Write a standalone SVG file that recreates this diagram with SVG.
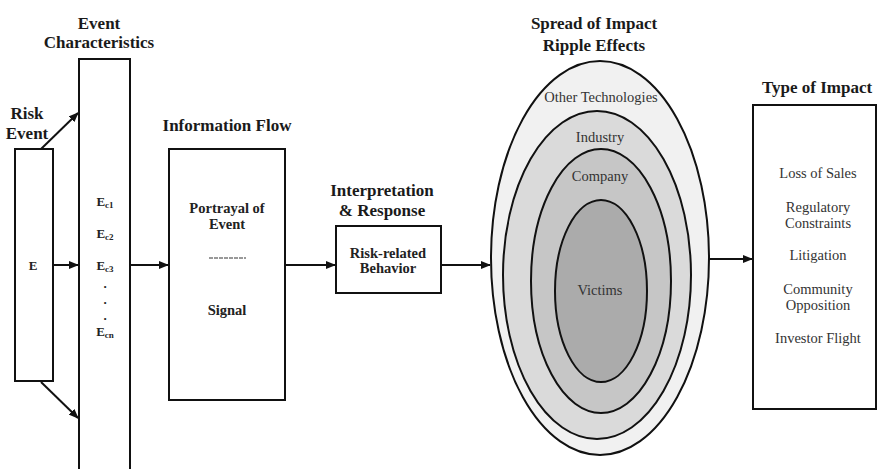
<svg xmlns="http://www.w3.org/2000/svg" width="878" height="469" viewBox="0 0 878 469">
<defs>
<marker id="ah" markerWidth="10" markerHeight="8" refX="9" refY="4" orient="auto" markerUnits="userSpaceOnUse">
<path d="M0,0 L10,4 L0,8 Z" fill="#111"/>
</marker>
<style>
.box{fill:#fff;stroke:#111;stroke-width:2}
.ell{stroke:#111;stroke-width:2}
text{font-family:'Liberation Serif','Times New Roman','DejaVu Serif',serif}
.title{font-weight:bold;font-size:17px;fill:#1a1a1a;text-anchor:middle}
.bt{font-weight:bold;font-size:14.5px;fill:#222;text-anchor:middle}
.et{font-weight:bold;font-size:13px;fill:#222;text-anchor:middle}
.rt{font-size:14.5px;fill:#333;text-anchor:middle}
.con{stroke:#111;stroke-width:2;fill:none}
</style>
</defs>
<rect width="878" height="469" fill="#fff"/>

<g id="connectors">
<line class="con" x1="41" y1="149" x2="78" y2="113" marker-end="url(#ah)"/>
<line class="con" x1="41" y1="382" x2="78" y2="418" marker-end="url(#ah)"/>
<line class="con" x1="53" y1="265" x2="78" y2="265" marker-end="url(#ah)"/>
<line class="con" x1="130" y1="265" x2="168" y2="265" marker-end="url(#ah)"/>
<line class="con" x1="285" y1="265" x2="335" y2="265" marker-end="url(#ah)"/>
<line class="con" x1="441" y1="265" x2="490" y2="265" marker-end="url(#ah)"/>
<line class="con" x1="709" y1="259" x2="752" y2="259" marker-end="url(#ah)"/>
</g>

<g id="risk-event">
<text class="title" x="27" y="119">Risk</text>
<text class="title" x="27" y="139">Event</text>
<rect class="box" x="15" y="149" width="38" height="232"/>
<text class="et" x="33" y="270">E</text>
</g>

<g id="event-characteristics">
<text class="title" x="99" y="29">Event</text>
<text class="title" x="99" y="48">Characteristics</text>
<rect class="box" x="79" y="59" width="51" height="420"/>
<text class="et" x="105" y="206">E<tspan font-size="9" dy="2">c1</tspan></text>
<text class="et" x="105" y="238">E<tspan font-size="9" dy="2">c2</tspan></text>
<text class="et" x="105" y="270">E<tspan font-size="9" dy="2">c3</tspan></text>
<text class="et" x="105" y="288">.</text>
<text class="et" x="105" y="304">.</text>
<text class="et" x="105" y="320">.</text>
<text class="et" x="105" y="336">E<tspan font-size="9" dy="2">cn</tspan></text>
</g>

<g id="information-flow">
<text class="title" x="227" y="131">Information Flow</text>
<rect class="box" x="169" y="149" width="116" height="251"/>
<text class="bt" x="227" y="213">Portrayal of</text>
<text class="bt" x="227" y="229">Event</text>
<line x1="209" y1="258" x2="246" y2="258" stroke="#333" stroke-width="1" stroke-dasharray="4 1"/>
<text class="bt" x="227" y="315">Signal</text>
</g>

<g id="interpretation">
<text class="title" x="382" y="196">Interpretation</text>
<text class="title" x="382" y="216">&amp; Response</text>
<rect class="box" x="336" y="226" width="105" height="67"/>
<text class="bt" x="388" y="258">Risk-related</text>
<text class="bt" x="388" y="273">Behavior</text>
</g>

<g id="ripple-effects">
<text class="title" x="594" y="29">Spread of Impact</text>
<text class="title" x="594" y="51">Ripple Effects</text>
<ellipse class="ell" cx="600" cy="258" rx="109" ry="197" fill="#f1f1f1"/>
<ellipse class="ell" cx="597" cy="275" rx="94" ry="164" fill="#dadada"/>
<ellipse class="ell" cx="601" cy="281" rx="70" ry="132" fill="#c6c6c6"/>
<ellipse class="ell" cx="601" cy="291" rx="46" ry="91" fill="#ababab"/>
<text class="rt" x="601" y="102">Other Technologies</text>
<text class="rt" x="600" y="142">Industry</text>
<text class="rt" x="600" y="181">Company</text>
<text class="rt" x="600" y="295">Victims</text>
</g>

<g id="type-of-impact">
<text class="title" x="817" y="93">Type of Impact</text>
<rect class="box" x="753" y="105" width="123" height="304"/>
<text class="rt" x="818" y="178">Loss of Sales</text>
<text class="rt" x="818" y="212">Regulatory</text>
<text class="rt" x="818" y="228">Constraints</text>
<text class="rt" x="818" y="260">Litigation</text>
<text class="rt" x="818" y="294">Community</text>
<text class="rt" x="818" y="310">Opposition</text>
<text class="rt" x="818" y="343">Investor Flight</text>
</g>
</svg>
